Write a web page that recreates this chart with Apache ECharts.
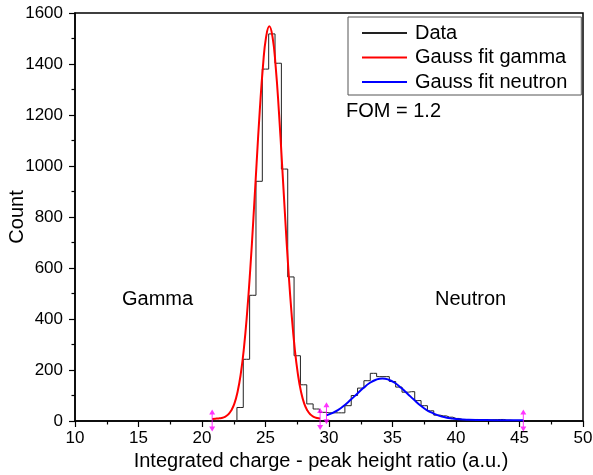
<!DOCTYPE html>
<html>
<head>
<meta charset="utf-8">
<script src="https://cdn.jsdelivr.net/npm/echarts@6/dist/echarts.min.js"></script>
<style>html,body{margin:0;padding:0;background:#fff}#c{width:593px;height:475px}</style>
</head>
<body>
<div id="c"></div>
<script>
// Histogram (bin centres, bin width 0.5)
const binX = [20.5,21,21.5,22,22.5,23,23.5,24,24.5,25,25.5,26,26.5,27,27.5,28,28.5,29,29.5,30,30.5,31,31.5,32,32.5,33,33.5,34,34.5,35,35.5,36,36.5,37,37.5,38,38.5,39,39.5,40,40.5,41,41.5,42,42.5,43,43.5,44,44.5,45];
const counts = [0,0,0,0,0,53,242,493,940,1380,1518,1403,988,565,256,142,67,47,34,32,32,32,60,100,129,158,187,174,174,155,133,113,115,80,60,40,23,20,15,10,6,4,6,3,4,5,6,3,2,0];

// Gauss fit gamma
const gammaX = [20.8,21.05,21.3,21.55,21.8,22.05,22.3,22.55,22.8,23.05,23.3,23.55,23.8,24.05,24.3,24.55,24.8,25.05,25.3,25.55,25.8,26.05,26.3,26.55,26.8,27.05,27.3,27.55,27.8,28.05,28.3,28.55,28.8,29.05,29.3];
const gammaY = [8,9,10,12,16,25,41,68,114,184,285,423,595,796,1011,1218,1391,1507,1548,1507,1391,1218,1011,796,595,423,285,184,114,68,41,25,16,12,10];

// Gauss fit neutron
const neutronX = [29.8,30.2,30.7,31.2,31.7,32.2,32.7,33.2,33.7,34.2,34.7,35.2,35.7,36.2,36.7,37.2,37.7,38.2,38.7,39.2,39.7,40.2,41,42,43,44,45.3];
const neutronY = [22,30,43,61,83,106,129,149,162,167,162,149,129,106,83,61,43,30,20,14,10,7,5,4,3,3,3];

// Fit range markers
const markerX = [20.8,29.3,29.8,45.3];
const markerY = [2,8,30,2];

const xTicks = {min:10, max:50, interval:5};
const yTicks = {min:0, max:1600, interval:200};

const FONT = 'Liberation Sans, Arial, sans-serif';
const chart = echarts.init(document.getElementById('c'), null, {renderer:'canvas'});
const zip = (a,b)=>a.map((v,i)=>[v,b[i]]);

const axisCommon = {
  axisLine:{show:true, onZero:false, lineStyle:{color:'#000', width:1.5}},
  axisTick:{show:true, inside:false, length:6, lineStyle:{color:'#000', width:1.2}},
  minorTick:{show:true, splitNumber:2, length:3.5, lineStyle:{color:'#000', width:1.2}},
  splitLine:{show:false},
  axisLabel:{color:'#000', fontSize:17, fontFamily:FONT, formatter:v=>String(v)},
  nameTextStyle:{color:'#000', fontSize:20, fontFamily:FONT}
};

chart.setOption({
  animation:false,
  grid:{left:75, right:10, top:13, bottom:54, containLabel:false, outerBoundsMode:'none',
        show:true, borderColor:'#000', borderWidth:1.5},
  xAxis:Object.assign({}, axisCommon, {
    type:'value', min:xTicks.min, max:xTicks.max, interval:xTicks.interval,
    name:'Integrated charge - peak height ratio (a.u.)', nameLocation:'middle', nameGap:30,
    nameMoveOverlap:false,
    nameTextStyle:Object.assign({}, axisCommon.nameTextStyle, {padding:[0,16,0,0]}),
    axisLabel:Object.assign({}, axisCommon.axisLabel, {margin:9})
  }),
  yAxis:Object.assign({}, axisCommon, {
    type:'value', min:yTicks.min, max:yTicks.max, interval:yTicks.interval,
    name:'Count', nameLocation:'middle', nameGap:48, nameMoveOverlap:false,
    axisLabel:Object.assign({}, axisCommon.axisLabel, {margin:12})
  }),
  legend:{
    left:348, top:17, orient:'vertical', data:['Data','Gauss fit gamma','Gauss fit neutron'],
    itemWidth:45, itemHeight:2, itemGap:4.5, icon:'rect',
    padding:[6,14,3,14], borderColor:'#555', borderWidth:1,
    textStyle:{color:'#000', fontSize:20, fontFamily:FONT, padding:[0,0,0,3]}
  },
  graphic:[
    {type:'text', left:346, top:101, style:{text:'FOM = 1.2', font:'20px '+FONT, fill:'#000'}},
    {type:'text', left:122, top:289, style:{text:'Gamma', font:'20px '+FONT, fill:'#000'}},
    {type:'text', left:435, top:289, style:{text:'Neutron', font:'20px '+FONT, fill:'#000'}}
  ],
  series:[
    {name:'Data', type:'line', step:'middle', data:zip(binX,counts), showSymbol:false, symbol:'none',
     lineStyle:{color:'#222', width:1}, itemStyle:{color:'#222'}, z:2},
    {name:'Gauss fit gamma', type:'line', smooth:true, data:zip(gammaX,gammaY), showSymbol:false, symbol:'none',
     lineStyle:{color:'#ff0000', width:2}, itemStyle:{color:'#ff0000'}, z:3},
    {name:'Gauss fit neutron', type:'line', smooth:true, data:zip(neutronX,neutronY), showSymbol:false, symbol:'none',
     lineStyle:{color:'#0000ff', width:2}, itemStyle:{color:'#0000ff'}, z:3},
    {name:'markers', type:'scatter', data:zip(markerX,markerY),
     symbol:'path://M3,0 L6,5 L3.5,5 L3.5,17 L6,17 L3,22 L0,17 L2.5,17 L2.5,5 L0,5 Z',
     symbolSize:[6,22], itemStyle:{color:'#ff00ff'}, z:5, silent:true}
  ]
});
</script>
</body>
</html>
